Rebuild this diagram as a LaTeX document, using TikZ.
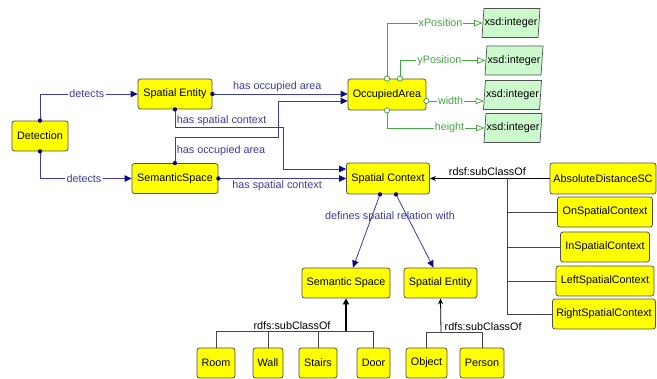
\documentclass[tikz,border=0pt]{standalone}
\usepackage{fontspec}
\setmainfont{Liberation Sans}
\usetikzlibrary{arrows.meta,shapes.geometric,calc}
\definecolor{classfill}{RGB}{255,255,0}
\definecolor{classedge}{RGB}{80,80,80}
\definecolor{relblue}{RGB}{60,60,160}
\definecolor{dotblue}{RGB}{10,10,130}
\definecolor{propgreen}{RGB}{70,165,70}
\definecolor{typefill}{RGB}{205,250,205}
\definecolor{subgray}{RGB}{70,70,70}
\begin{document}
\begin{tikzpicture}[x=1pt,y=-1pt,
  font=\fontsize{10.8}{12}\selectfont,
  cls/.style={draw=classedge, fill=classfill, rounded corners=2.5pt,
    line width=0.8pt, minimum height=30pt, inner sep=1pt},
  dtype/.style={trapezium, trapezium left angle=80, trapezium right angle=100,
    trapezium stretches body, draw=classedge, fill=typefill, line width=0.7pt,
    minimum width=58pt, minimum height=29pt, inner sep=0.5pt},
  rel/.style={draw=relblue, line width=0.8pt, -{Triangle[length=7pt,width=6.5pt]},
    arrows={-{Triangle[length=7pt,width=6.5pt,color=dotblue]}}},
  rellabel/.style={text=relblue, inner sep=1.5pt},
  prop/.style={draw=propgreen, line width=0.8pt,
    -{Triangle[open,length=8.5pt,width=6.5pt]}},
  proplabel/.style={text=propgreen, fill=white, inner sep=1pt},
  subline/.style={draw=subgray, line width=0.8pt},
  subarrow/.style={draw=black, line width=0.8pt, -{Stealth[length=6pt,width=5pt]}},
  dot/.style={fill=dotblue},
  ring/.style={draw=propgreen, fill=white, line width=0.8pt}
]
\useasboundingbox (0,0) rectangle (657,379);

% ---- classes ----
\node[cls, minimum width=56pt] (det) at (40,136) {Detection};
\node[cls, minimum width=74pt] (se1) at (175,94) {Spatial Entity};
\node[cls, minimum width=86pt] (ss1) at (175,178.5) {SemanticSpace};
\node[cls, minimum width=78pt, minimum height=31pt] (oa) at (387,94.5) {OccupiedArea};
\node[cls, minimum width=83pt, minimum height=31pt] (sc) at (388,178.5) {Spatial Context};

\node[cls, minimum width=106pt, minimum height=31pt] (ad) at (603,178.5) {AbsoluteDistanceSC};
\node[cls, minimum width=95pt] (on) at (605,212) {OnSpatialContext};
\node[cls, minimum width=89pt] (in) at (605,247) {InSpatialContext};
\node[cls, minimum width=98pt] (left) at (605,281) {LeftSpatialContext};
\node[cls, minimum width=103pt] (right) at (604,314) {RightSpatialContext};

\node[cls, minimum width=88pt] (sem) at (346,283) {Semantic Space};
\node[cls, minimum width=73pt] (sen) at (440.5,283) {Spatial Entity};

\node[cls, minimum width=38pt] (room) at (216,363) {Room};
\node[cls, minimum width=30pt] (wall) at (268,363) {Wall};
\node[cls, minimum width=38pt] (stairs) at (318,363) {Stairs};
\node[cls, minimum width=33pt] (door) at (373.5,363) {Door};
\node[cls, minimum width=41pt] (object) at (426.5,363) {Object};
\node[cls, minimum width=44pt] (person) at (482,363) {Person};

% ---- datatypes ----
\node[dtype] (x1) at (511,23) {xsd:integer};
\node[dtype] (x2) at (514,60.5) {xsd:integer};
\node[dtype] (x3) at (512.5,95) {xsd:integer};
\node[dtype] (x4) at (513,128) {xsd:integer};

% ---- object properties ----
\draw[rel] (det.north) |- node[pos=0.74, rellabel, fill=white] {detects} (se1.west);
\draw[rel] (det.south) |- node[pos=0.74, rellabel, fill=white] {detects} (ss1.west);

\draw[rel] (se1.east) -- node[above, rellabel, pos=0.48] {has occupied area} (se1.east -| oa.west);

\coordinate (occbend) at (278,137);
\coordinate (occin) at ($(oa.west)+(0,6.5)$);
\draw[rel] (ss1.north) -- node[right, rellabel, yshift=-1pt] {has occupied area} (ss1.north |- occbend)
  -- (occbend) -- (occbend |- occin) -- (occin);

\coordinate (ctxbend) at (283,127);
\coordinate (ctxin) at ($(sc.west)+(0,-9.5)$);
\draw[rel] (se1.south) -- node[right, rellabel, yshift=-3pt] {has spatial context} (se1.south |- ctxbend)
  -- (ctxbend) -- (ctxbend |- ctxin) -- (ctxin);

\draw[rel] (ss1.east) -- node[below, rellabel, pos=0.46, yshift=-0.5pt] {has spatial context} (ss1.east -| sc.west);

\coordinate (scl) at ($(sc.south)+(-8,0)$);
\coordinate (scr) at ($(sc.south)+(8,0)$);
\draw[rel] (scl) -- ($(sem.north)+(7,0)$);
\draw[rel] (scr) -- ($(sen.north)+(-7,0)$);
\node[rellabel] (defl) at (390,217) {defines spatial relation with};

\foreach \p in {det.north, det.south, se1.east, se1.south, ss1.north, ss1.east, scl, scr}
  \fill[dot] (\p) circle (2.2pt);

% ---- datatype properties ----
\coordinate (ypos) at ($(oa.north)+(13,0)$);
\coordinate (wpos) at ($(oa.east)+(0,6.5)$);
\draw[prop] (oa.north) |- node[pos=0.78, proplabel] {xPosition} (x1.west);
\draw[prop] (ypos) |- node[pos=0.73, proplabel] {yPosition} (x2.west);
\draw[prop] (wpos) -- node[pos=0.42, proplabel] {width} (wpos -| x3.west);
\draw[prop] (oa.south) |- node[pos=0.82, proplabel] {height} (x4.west);
\foreach \p in {oa.north, ypos, wpos, oa.south}
  \draw[ring] (\p) circle (2.6pt);

% ---- subclass hierarchy of Spatial Context ----
\draw[subarrow] (ad.west) -- node[above, text=black, inner sep=2pt, pos=0.52] {rdsf:subClassOf} (sc.east);
\coordinate (trunk) at (507,178.5);
\draw[subline] (trunk) |- (right.west);
\draw[subline] (trunk |- on.west) -- (on.west);
\draw[subline] (trunk |- in.west) -- (in.west);
\draw[subline] (trunk |- left.west) -- (left.west);

% ---- subclass hierarchy of Semantic Space ----
\coordinate (semtree) at (346,331);
\draw[draw=black, line width=1.6pt, -{Triangle[length=6pt,width=6pt]}] (semtree) -- (sem.south);
\draw[subline] (room.north) -- (room.north |- semtree) -- (door.north |- semtree) -- (door.north);
\draw[subline] (wall.north) -- (wall.north |- semtree);
\draw[subline] (stairs.north) -- (stairs.north |- semtree);
\node[anchor=south, inner sep=1.5pt] (semsub) at (292,331) {rdfs:subClassOf};

% ---- subclass hierarchy of Spatial Entity ----
\coordinate (sentree) at (441,332);
\draw[subarrow] (sentree) -- (sen.south);
\draw[subline] (object.north) -- (object.north |- sentree) -- (person.north |- sentree) -- (person.north);
\node[anchor=south west, inner sep=1.5pt] (sensub) at (443,332) {rdfs:subClassOf};
\end{tikzpicture}
\end{document}
